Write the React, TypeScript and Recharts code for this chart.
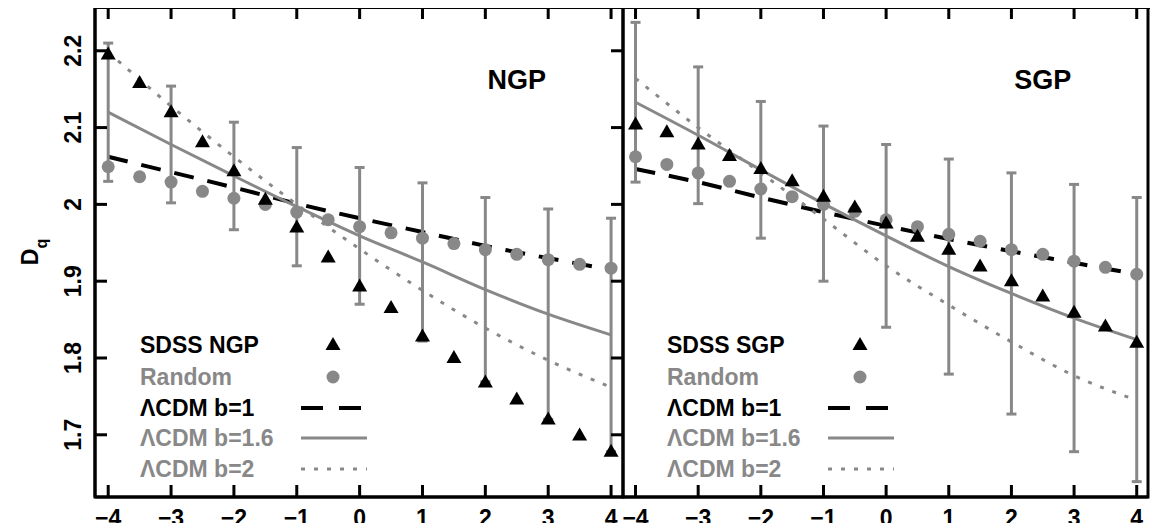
import React from "react";
import {
  ComposedChart,
  Line,
  Scatter,
  XAxis,
  YAxis,
  ErrorBar,
  Legend,
  ReferenceDot,
  ReferenceArea,
  Label,
} from "recharts";

// q values: half steps for the measured points, whole steps for the models
const xHalf = [-4, -3.5, -3, -2.5, -2, -1.5, -1, -0.5, 0, 0.5, 1, 1.5, 2, 2.5, 3, 3.5, 4];
const xInt = [-4, -3, -2, -1, 0, 1, 2, 3, 4];
const xTicks = [-4, -3, -2, -1, 0, 1, 2, 3, 4];
const yTicks = [1.7, 1.8, 1.9, 2.0, 2.1, 2.2];

// NGP panel
const ngpObs = [2.195, 2.158, 2.12, 2.081, 2.043, 2.006, 1.97, 1.931, 1.893, 1.865, 1.828, 1.8, 1.768, 1.746, 1.72, 1.699, 1.678];
const ngpRandom = [2.049, 2.036, 2.029, 2.017, 2.008, 2.0, 1.99, 1.98, 1.971, 1.963, 1.956, 1.949, 1.941, 1.935, 1.928, 1.922, 1.917];
const ngpB1 = [2.062, 2.042, 2.022, 2.001, 1.982, 1.964, 1.946, 1.93, 1.915];
const ngpB16 = [2.12, 2.078, 2.037, 1.997, 1.959, 1.925, 1.889, 1.857, 1.83];
const ngpB16Err = [0.09, 0.076, 0.07, 0.077, 0.089, 0.103, 0.12, 0.137, 0.152];
const ngpB2 = [2.198, 2.128, 2.062, 2.0, 1.942, 1.888, 1.839, 1.797, 1.762];

// SGP panel
const sgpObs = [2.104, 2.094, 2.078, 2.063, 2.046, 2.03, 2.01, 1.996, 1.975, 1.958, 1.941, 1.919, 1.9, 1.88, 1.859, 1.841, 1.82];
const sgpRandom = [2.062, 2.052, 2.041, 2.03, 2.02, 2.01, 2.0, 1.991, 1.98, 1.971, 1.961, 1.952, 1.941, 1.935, 1.926, 1.918, 1.909];
const sgpB1 = [2.046, 2.029, 2.009, 1.99, 1.972, 1.955, 1.939, 1.924, 1.909];
const sgpB16 = [2.133, 2.09, 2.045, 2.001, 1.959, 1.919, 1.884, 1.852, 1.824];
const sgpB16Err = [0.104, 0.089, 0.089, 0.101, 0.119, 0.14, 0.157, 0.174, 0.185];
const sgpB2 = [2.164, 2.1, 2.041, 1.981, 1.92, 1.869, 1.821, 1.777, 1.745];

const ngpLegend = ["SDSS NGP", "Random", "ΛCDM b=1", "ΛCDM b=1.6", "ΛCDM b=2"];
const sgpLegend = ["SDSS SGP", "Random", "ΛCDM b=1", "ΛCDM b=1.6", "ΛCDM b=2"];

const GRAY = "#888888";
const FONT = "'Liberation Sans', Arial, sans-serif";
const legendColors = ["#000", GRAY, "#000", GRAY, GRAY];
const TICK_LEN = 12;
const CHART_H = 531;
const X_AXIS_H = 34;
const Y_AXIS_W = 95;
const Y_DOMAIN: [number, number] = [1.619, 2.257];

const toRows = (xs: number[], ys: number[], err?: number[]) =>
  xs.map((x, i) => ({ x, v: ys[i], err: err ? err[i] : 0 }));

const Triangle = (props: any) => {
  const { cx, cy } = props;
  if (cx == null || cy == null) return null;
  return <polygon points={`${cx},${cy - 8} ${cx - 7.5},${cy + 5} ${cx + 7.5},${cy + 5}`} fill="#000" />;
};

const Dot = (props: any) => {
  const { cx, cy } = props;
  if (cx == null || cy == null) return null;
  return <circle cx={cx} cy={cy} r={6.5} fill={GRAY} />;
};

// x tick: inward marks at bottom and top of the frame, label below
const BottomTick = (props: any) => {
  const { x, payload, topY, bottomY } = props;
  const v = payload.value;
  const s = v < 0 ? "\u2212" + Math.abs(v) : String(v);
  return (
    <g>
      <line x1={x} x2={x} y1={bottomY} y2={bottomY - TICK_LEN} stroke="#000" strokeWidth={3} />
      <rect x={x - 1.5} y={topY} width={3} height={TICK_LEN} fill="#000" />
      <text x={x} y={bottomY + 13} dy="0.71em" textAnchor="middle" fontSize={23} fontWeight="bold" fontFamily={FONT} fill="#000">
        {s}
      </text>
    </g>
  );
};

// y tick: inward marks at left and right of the frame, rotated label
const LeftTick = (props: any) => {
  const { y, payload, showLabel, leftX, rightX } = props;
  const s = payload.value === 2 ? "2" : payload.value.toFixed(1);
  const tx = leftX - 14;
  return (
    <g>
      <line x1={leftX} x2={leftX + TICK_LEN} y1={y} y2={y} stroke="#000" strokeWidth={3} />
      <line x1={rightX} x2={rightX - TICK_LEN} y1={y} y2={y} stroke="#000" strokeWidth={3} />
      {showLabel && (
        <text x={tx} y={y} transform={`rotate(-90 ${tx} ${y})`} textAnchor="middle" fontSize={23} fontWeight="bold" fontFamily={FONT} fill="#000">
          {s}
        </text>
      )}
    </g>
  );
};

const DqLabel = () => (
  <text x={38} y={252} transform="rotate(-90 38 252)" textAnchor="middle" fontSize={23} fontWeight="bold" fontFamily={FONT} fill="#000">
    <tspan>D</tspan>
    <tspan fontSize={16} dy={9}>q</tspan>
  </text>
);

function LegendBox({ labels }: { labels: string[] }) {
  const rowY = [20, 52, 83, 113, 144];
  return (
    <svg width={250} height={165} style={{ display: "block" }}>
      {labels.map((t, i) => (
        <text key={i} x={10} y={rowY[i]} dominantBaseline="central" fill={legendColors[i]} fontSize={23} fontWeight="bold" fontFamily={FONT}>
          {t}
        </text>
      ))}
      <Triangle cx={203} cy={rowY[0]} />
      <Dot cx={203} cy={rowY[1]} />
      <line x1={171} x2={237} y1={rowY[2]} y2={rowY[2]} stroke="#000" strokeWidth={4} strokeDasharray="22 16" />
      <line x1={171} x2={237} y1={rowY[3]} y2={rowY[3]} stroke={GRAY} strokeWidth={3} />
      <line x1={171} x2={237} y1={rowY[4]} y2={rowY[4]} stroke={GRAY} strokeWidth={3} strokeDasharray="4 9" />
    </svg>
  );
}

type PanelProps = {
  width: number;
  margin: { top: number; right: number; bottom: number; left: number };
  xDomain: [number, number];
  showYLabels: boolean;
  obs: number[];
  random: number[];
  b1: number[];
  b16: number[];
  b16Err: number[];
  b2: number[];
  name: string;
  legend: string[];
  legendLeft: number;
};

function Panel(p: PanelProps) {
  const axisStyle = { stroke: "#000", strokeWidth: 3 };
  const yAxisW = p.showYLabels ? Y_AXIS_W : 0;
  const leftX = p.margin.left + yAxisW;
  const rightX = p.width - p.margin.right;
  const topY = p.margin.top;
  const bottomY = CHART_H - p.margin.bottom - X_AXIS_H;
  return (
    <ComposedChart width={p.width} height={CHART_H} margin={p.margin}>
      {/* frame around the plot */}
      <ReferenceArea
        x1={p.xDomain[0]}
        x2={p.xDomain[1]}
        y1={Y_DOMAIN[0]}
        y2={Y_DOMAIN[1]}
        fill="none"
        fillOpacity={0}
        stroke="#000"
        strokeWidth={3}
        strokeOpacity={1}
        ifOverflow="visible"
      />
      <XAxis
        dataKey="x"
        type="number"
        domain={p.xDomain}
        allowDataOverflow
        ticks={xTicks}
        height={X_AXIS_H}
        axisLine={axisStyle}
        tickLine={false}
        tick={<BottomTick topY={topY} bottomY={bottomY} />}
        interval={0}
      />
      <YAxis
        type="number"
        domain={Y_DOMAIN}
        allowDataOverflow
        ticks={yTicks}
        width={yAxisW}
        axisLine={axisStyle}
        tickLine={false}
        tick={<LeftTick showLabel={p.showYLabels} leftX={leftX} rightX={rightX} />}
        interval={0}
      >
        {p.showYLabels && <Label content={<DqLabel />} />}
      </YAxis>
      <Legend
        layout="vertical"
        align="center"
        verticalAlign="middle"
        wrapperStyle={{ left: p.legendLeft, top: 325, width: 250, height: 165 }}
        content={() => <LegendBox labels={p.legend} />}
      />
      <Line data={toRows(xInt, p.b1)} dataKey="v" type="monotone" stroke="#000" strokeWidth={4} strokeDasharray="20 14" dot={false} isAnimationActive={false} />
      <Line data={toRows(xInt, p.b2)} dataKey="v" type="monotone" stroke={GRAY} strokeWidth={3} strokeDasharray="4 9" dot={false} isAnimationActive={false} />
      <Scatter data={toRows(xHalf, p.random)} dataKey="v" shape={<Dot />} isAnimationActive={false} />
      <Scatter data={toRows(xHalf, p.obs)} dataKey="v" shape={<Triangle />} isAnimationActive={false} />
      <Line data={toRows(xInt, p.b16, p.b16Err)} dataKey="v" type="monotone" stroke={GRAY} strokeWidth={3} dot={false} isAnimationActive={false}>
        <ErrorBar dataKey="err" direction="y" width={5} stroke={GRAY} strokeWidth={3} />
      </Line>
      <ReferenceDot
        x={2.5}
        y={2.163}
        r={1}
        fill="none"
        stroke="none"
        label={{ value: p.name, position: "center", fill: "#000", fontSize: 27, fontWeight: "bold", fontFamily: FONT }}
      />
    </ComposedChart>
  );
}

export default function App() {
  return (
    <div style={{ position: "relative", width: 1160, height: 531, margin: -8, background: "#fff", fontFamily: FONT }}>
      <div style={{ position: "absolute", left: 0, top: 0 }}>
        <Panel
          width={633}
          margin={{ top: 7, right: 10, bottom: 0, left: 0 }}
          xDomain={[-4.21, 4.19]}
          showYLabels
          obs={ngpObs}
          random={ngpRandom}
          b1={ngpB1}
          b16={ngpB16}
          b16Err={ngpB16Err}
          b2={ngpB2}
          name="NGP"
          legend={ngpLegend}
          legendLeft={130}
        />
      </div>
      <div style={{ position: "absolute", left: 613, top: 0 }}>
        <Panel
          width={547}
          margin={{ top: 7, right: 12, bottom: 0, left: 10 }}
          xDomain={[-4.2, 4.18]}
          showYLabels={false}
          obs={sgpObs}
          random={sgpRandom}
          b1={sgpB1}
          b16={sgpB16}
          b16Err={sgpB16Err}
          b2={sgpB2}
          name="SGP"
          legend={sgpLegend}
          legendLeft={44}
        />
      </div>
      {/* top edge of the frame */}
      <div style={{ position: "absolute", left: 94, top: 5, width: 1056, height: 4, background: "#000" }} />
    </div>
  );
}
